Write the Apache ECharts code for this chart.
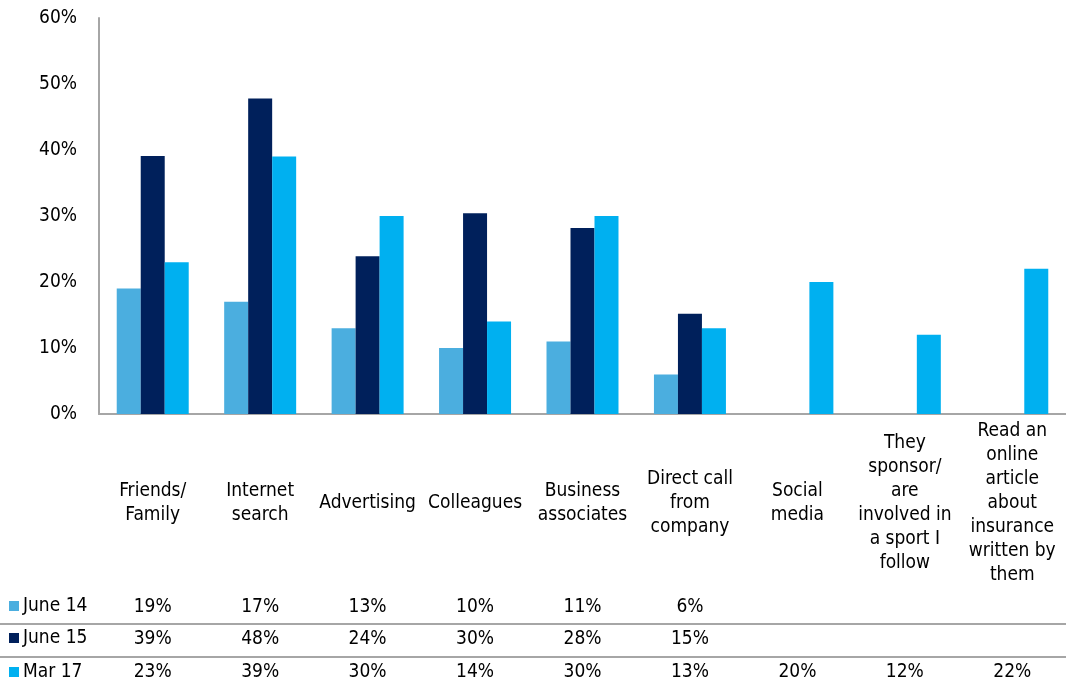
<!DOCTYPE html>
<html>
<head>
<meta charset="utf-8">
<script src="https://cdn.jsdelivr.net/npm/echarts@6/dist/echarts.min.js"></script>
<style>
html,body{margin:0;padding:0;background:#fff;}
#c{width:1066px;height:684px;}
</style>
</head>
<body>
<div id="c"></div>
<script>
const categories = [
  'Friends/\nFamily',
  'Internet\nsearch',
  'Advertising',
  'Colleagues',
  'Business\nassociates',
  'Direct call\nfrom\ncompany',
  'Social\nmedia',
  'They\nsponsor/\nare\ninvolved in\na sport I\nfollow',
  'Read an\nonline\narticle\nabout\ninsurance\nwritten by\nthem'
];
const seriesNames = ['June 14', 'June 15', 'Mar 17'];
const june14 = [19, 17, 13, 10, 11, 6, null, null, null];
const june15 = [39.1, 47.8, 23.9, 30.4, 28.2, 15.2, null, null, null];
const mar17  = [23, 39, 30, 14, 30, 13, 20, 12, 22];
const yTicks = [0, 10, 20, 30, 40, 50, 60];

const colors = ['#4BAEDF', '#00205B', '#00B0F0'];
const FONT = "'DejaVu Sans Condensed', 'DejaVu Sans', sans-serif";
const allSeries = [june14, june15, mar17];
const rowCenters = [606, 638, 672];

const chart = echarts.init(document.getElementById('c'));

function tableAxis(values, margin) {
  return {
    type: 'category',
    data: values.map(v => v == null ? '' : Math.round(v) + '%'),
    position: 'bottom',
    gridIndex: 0,
    axisLine: {show: false},
    axisTick: {show: false},
    axisLabel: {
      interval: 0, margin: margin, verticalAlign: 'middle',
      color: '#000', fontSize: 19, fontFamily: FONT
    }
  };
}

chart.setOption({
  animation: false,
  color: colors,
  grid: {left: 99, right: 0, top: 18, bottom: 270, containLabel: false},
  legend: seriesNames.map((n, i) => ({
    data: [n],
    orient: 'horizontal',
    left: 9, top: rowCenters[i] - 11,
    padding: 0,
    icon: 'rect', itemWidth: 10, itemHeight: 10, itemGap: 4,
    textStyle: {fontSize: 19, fontFamily: FONT, color: '#000', lineHeight: 22, padding: [0,0,0,-1]},
    selectedMode: false
  })),
  xAxis: [
    {
      type: 'category',
      data: categories,
      axisLine: {show: true, lineStyle: {color: '#A6A6A6', width: 2}},
      axisTick: {show: false},
      axisLabel: {
        interval: 0, margin: 89, verticalAlign: 'middle', align: 'center',
        color: '#000', fontSize: 19, lineHeight: 24, fontFamily: FONT
      }
    },
    tableAxis(june14, 193),
    tableAxis(june15, 225),
    tableAxis(mar17, 258)
  ],
  yAxis: {
    type: 'value',
    min: 0, max: 60, interval: 10,
    axisLine: {show: true, lineStyle: {color: '#A6A6A6', width: 2}},
    axisTick: {show: false},
    splitLine: {show: false},
    axisLabel: {
      margin: 22, color: '#000', fontSize: 19, fontFamily: FONT,
      formatter: v => yTicks.includes(v) ? v + '%' : ''
    }
  },
  graphic: [
    {type: 'line', shape: {x1: 0, y1: 624, x2: 1066, y2: 624}, style: {stroke: '#A6A6A6', lineWidth: 2}},
    {type: 'line', shape: {x1: 0, y1: 657, x2: 1066, y2: 657}, style: {stroke: '#A6A6A6', lineWidth: 2}}
  ],
  series: seriesNames.map((n, i) => ({
    name: n,
    type: 'bar',
    data: allSeries[i],
    barGap: '0%',
    barCategoryGap: '33%',
    itemStyle: {color: colors[i]}
  }))
});
</script>
</body>
</html>
